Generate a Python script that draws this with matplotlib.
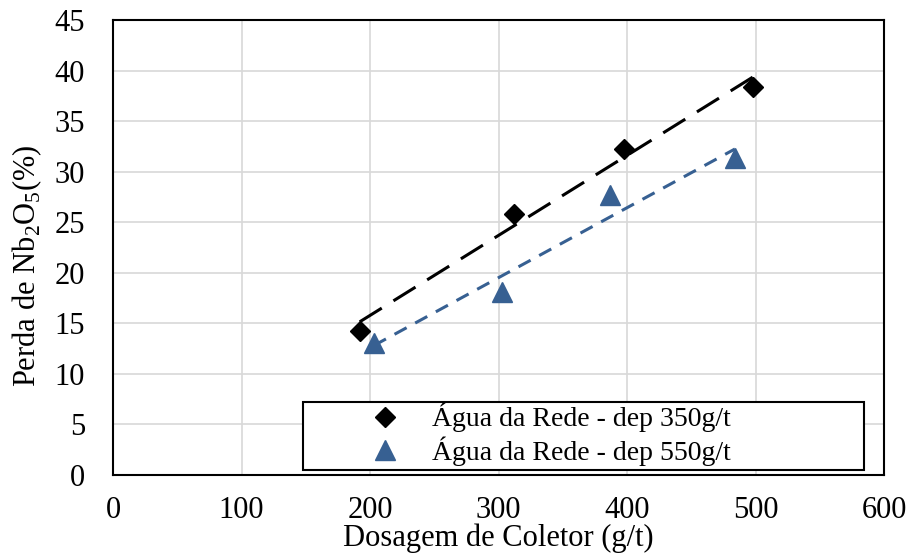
import numpy as np
import matplotlib
matplotlib.use("Agg")
import matplotlib.pyplot as plt
from matplotlib.patches import Rectangle

plt.rcParams["font.family"] = ["Liberation Serif", "DejaVu Serif"]
plt.rcParams["mathtext.fontset"] = "custom"
plt.rcParams["mathtext.rm"] = "Liberation Serif"

# Collector dosage (g/t) and Nb2O5 loss (%) for each depressant dosage
dose_350 = [192, 312, 398, 498]
loss_350 = [14.2, 25.8, 32.2, 38.4]
dose_550 = [203, 303, 387, 484]
loss_550 = [13.1, 18.1, 27.7, 31.4]

label_350 = "Água da Rede - dep 350g/t"
label_550 = "Água da Rede - dep 550g/t"

x_ticks = [0, 100, 200, 300, 400, 500, 600]
y_ticks = [0, 5, 10, 15, 20, 25, 30, 35, 40, 45]

blue = "#376092"
fs = 22

fig = plt.figure(figsize=(9.12, 5.58), dpi=100)
W, H = 912, 558
ax = fig.add_axes([113 / W, (H - 475) / H, 771 / W, 455 / H])

ax.set_xlim(0, 600)
ax.set_ylim(0, 45)
ax.set_xticks(x_ticks)
ax.set_yticks(y_ticks)
ax.tick_params(axis="both", length=0, labelsize=fs)
ax.tick_params(axis="x", pad=15)
ax.tick_params(axis="y", pad=20)
ax.grid(True, color="#D9D9D9", lw=1.25, zorder=0)
ax.set_axisbelow(True)
for s in ax.spines.values():
    s.set_linewidth(1.5)
    s.set_color("black")

# linear trend lines over each series' dosage range
for xs, ys, col, dash in [(dose_350, loss_350, "black", (8.5, 4.5)),
                          (dose_550, loss_550, blue, (4.5, 3.2))]:
    k, b = np.polyfit(xs, ys, 1)
    xx = np.array([min(xs), max(xs)])
    ax.plot(xx, k * xx + b, color=col, lw=2.2, dashes=dash,
            solid_capstyle="butt", dash_capstyle="butt", zorder=3)

ax.plot(dose_350, loss_350, ls="none", marker="D", ms=10.5, color="black",
        label=label_350, zorder=4)
ax.plot(dose_550, loss_550, ls="none", marker="^", ms=14, color=blue,
        label=label_550, zorder=4)

ax.set_xlabel("Dosagem de Coletor (g/t)", fontsize=fs, labelpad=-1)
ax.set_ylabel(r"Perda de Nb$_\mathregular{2}$O$_\mathregular{5}$(%)", fontsize=fs)
ax.yaxis.set_label_coords(-0.09, 0.46)

# legend box
ax.add_patch(Rectangle((0.2464, 0.011), 0.7276, 0.1494, transform=ax.transAxes,
                       facecolor="white", edgecolor="black", lw=1.5, zorder=6))
leg = ax.legend(loc="center left", bbox_to_anchor=(0.3258, 0.089),
                frameon=False, fontsize=20, handlelength=1.5,
                handletextpad=0.94, labelspacing=0.15, borderpad=0,
                borderaxespad=0)
leg.set_zorder(7)

fig.savefig("out.png", dpi=100)
